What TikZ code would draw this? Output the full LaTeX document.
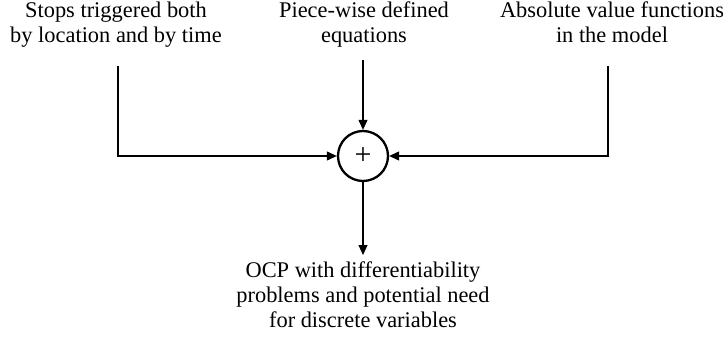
\documentclass[tikz,border=0pt]{standalone}
\usepackage{fontspec}
\setmainfont{Liberation Serif}
\usetikzlibrary{arrows.meta}
\begin{document}
\begin{tikzpicture}[x=1pt,y=1pt,
  lbl/.style={inner sep=0pt, align=center, font=\fontsize{22.4}{25}\selectfont, anchor=north},
  sumnode/.style={circle, draw, line width=2.3pt, minimum size=50pt, inner sep=0pt, font=\fontsize{30}{30}\selectfont},
  conn/.style={line width=1.1pt, -{Triangle[length=10pt,width=9pt]}}]
\useasboundingbox (0,0) rectangle (728,343);
\node[sumnode] (sum) at (363,187) {+};
\node[lbl] (l) at (116,341) {Stops triggered both\\by location and by time};
\node[lbl] (m) at (364,341) {Piece-wise defined\\equations};
\node[lbl] (r) at (612,341) {Absolute value functions\\in the model};
\node[lbl] (b) at (363,81) {OCP with differentiability\\problems and potential need\\for discrete variables};
\coordinate (ls) at (118,277);
\coordinate (ms) at (363,283);
\coordinate (rs) at (608,277);
\coordinate (be) at (363,88);
\draw[conn] (ls) |- (sum.west);
\draw[conn] (ms) -- (sum.north);
\draw[conn] (rs) |- (sum.east);
\draw[conn] (sum.south) -- (be);
\end{tikzpicture}
\end{document}
